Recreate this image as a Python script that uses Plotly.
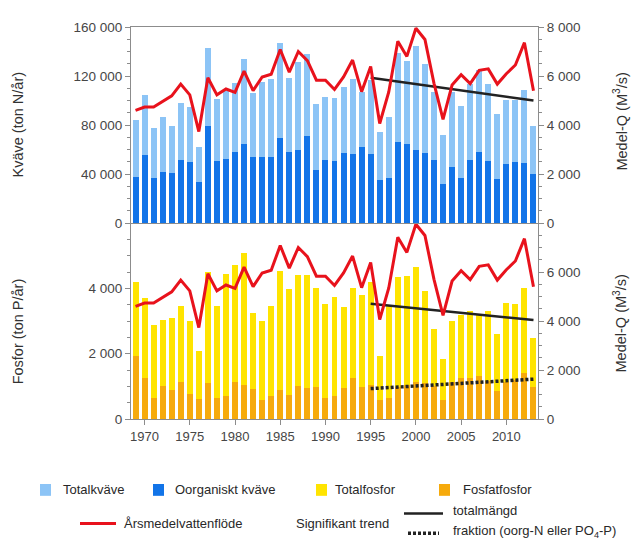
import plotly.graph_objects as go

years = list(range(1969, 2014))

totalkvave = [83700, 104500, 77600, 86900, 78900, 98100, 94900, 62100, 143200, 101600,
              107700, 113900, 133900, 106400, 115200, 117900, 147200, 118700, 131200, 137600,
              97100, 103200, 102100, 111200, 117900, 106700, 117100, 74400, 86400, 139000,
              132000, 144500, 130100, 107000, 72000, 107200, 95500, 113100, 125100, 113300,
              89300, 100500, 100500, 108800, 79200]

oorg_kvave = [37600, 55200, 36500, 41600, 41100, 51700, 49600, 33600, 78900, 50400,
              52300, 58100, 64500, 53600, 54100, 53600, 69100, 57900, 59700, 71200,
              43500, 51700, 50900, 57100, 56300, 62100, 56000, 34900, 36800, 66400,
              64500, 59700, 57100, 51200, 32000, 45900, 37100, 51200, 58100, 50400,
              36000, 48300, 50100, 49100, 40000]

totalfosfor = [4190, 3700, 2870, 3040, 3080, 3450, 2990, 2080, 4490, 3460,
               4440, 4700, 5090, 3250, 3010, 3470, 4520, 3990, 4420, 4420,
               4010, 3520, 3750, 3440, 4000, 3790, 4190, 1920, 3450, 4350,
               4370, 4640, 3920, 2770, 1840, 3000, 3190, 3320, 3200, 3320,
               2600, 3560, 3520, 4000, 2470]

fosfatfosfor = [1940, 1250, 650, 1020, 900, 1140, 770, 620, 1100, 650,
                710, 1120, 1040, 920, 590, 710, 890, 750, 1000, 940,
                970, 640, 690, 940, 1250, 980, 1050, 580, 630, 980,
                1030, 1120, 1100, 1020, 590, 1120, 1240, 1270, 1320, 1170,
                850, 1120, 1190, 1400, 970]

vattenflode = [4600, 4730, 4730, 4960, 5190, 5670, 5230, 3730, 5930, 5230,
               5470, 5330, 6200, 5400, 5960, 6070, 7080, 6160, 7000, 6630,
               5830, 5830, 5450, 5960, 6650, 5360, 6390, 4060, 5350, 7420,
               6800, 7950, 7490, 5700, 4230, 5630, 6050, 5690, 6230, 6290,
               5670, 6090, 6450, 7360, 5400]

trend_years = [1995, 2013]
trend_kvave_total = [118500, 100000]
trend_fosfor_total = [3530, 3030]
trend_fosfor_fraktion = [930, 1220]

year_ticks = [1970, 1975, 1980, 1985, 1990, 1995, 2000, 2005, 2010]

C_TOTN = "rgb(140,196,246)"
C_ORGN = "rgb(18,116,232)"
C_TOTP = "rgb(255,228,0)"
C_PO4 = "rgb(246,170,12)"
C_RED = "rgb(232,18,28)"
C_TREND = "rgb(34,34,34)"
AX = "rgb(140,140,140)"
TXT = "rgb(70,70,70)"
FONT = "Liberation Sans, Arial, sans-serif"

# the page body has an 8px margin; compensate so the figure fills the 641x543 window
OFF = 8
W, H = 641 - OFF, 543 - OFF
PL, PR, PT, PB = 131 - OFF, 538 - OFF, 21 - OFF, 419 - OFF

fig = go.Figure()
BW = 0.66

# top panel
fig.add_trace(go.Bar(x=years, y=totalkvave, marker=dict(color=C_TOTN, line=dict(width=0)),
                     width=BW, xaxis="x2", yaxis="y3", showlegend=False))
fig.add_trace(go.Bar(x=years, y=oorg_kvave, marker=dict(color=C_ORGN, line=dict(width=0)),
                     width=BW, xaxis="x2", yaxis="y3", showlegend=False))
fig.add_trace(go.Scatter(x=years, y=vattenflode, mode="lines", line=dict(color=C_RED, width=3),
                         xaxis="x2", yaxis="y4", showlegend=False))
fig.add_trace(go.Scatter(x=trend_years, y=trend_kvave_total, mode="lines",
                         line=dict(color=C_TREND, width=2.5), xaxis="x2", yaxis="y3", showlegend=False))

# bottom panel
fig.add_trace(go.Bar(x=years, y=totalfosfor, marker=dict(color=C_TOTP, line=dict(width=0)),
                     width=BW, xaxis="x", yaxis="y", showlegend=False))
fig.add_trace(go.Bar(x=years, y=fosfatfosfor, marker=dict(color=C_PO4, line=dict(width=0)),
                     width=BW, xaxis="x", yaxis="y", showlegend=False))
fig.add_trace(go.Scatter(x=years, y=vattenflode, mode="lines", line=dict(color=C_RED, width=3),
                         xaxis="x", yaxis="y2", showlegend=False))
fig.add_trace(go.Scatter(x=trend_years, y=trend_fosfor_total, mode="lines",
                         line=dict(color=C_TREND, width=2.5), xaxis="x", yaxis="y", showlegend=False))
fig.add_trace(go.Scatter(x=trend_years, y=trend_fosfor_fraktion, mode="lines",
                         line=dict(color=C_TREND, width=3.5, dash="3px,2px"), xaxis="x", yaxis="y",
                         showlegend=False))

tickfont = dict(family=FONT, size=13.5, color=TXT)
common_y = dict(showgrid=False, zeroline=False, showline=True, linecolor=AX, linewidth=1,
                ticks="outside", ticklen=5, tickcolor=AX, tickfont=tickfont, fixedrange=True,
                tickformat=",d")

fig.update_layout(
    width=W, height=H,
    margin=dict(l=PL, r=W - PR, t=PT, b=H - PB),
    paper_bgcolor="white", plot_bgcolor="white",
    barmode="overlay", bargap=0,
    separators=", ",
    font=dict(family=FONT, color=TXT),
    xaxis=dict(domain=[0, 1], anchor="y", range=[1968.5, 2013.5], tickvals=year_ticks,
               ticks="outside", ticklen=5, tickcolor=AX, showline=True, linecolor=AX,
               showgrid=False, zeroline=False, tickformat="d",
               tickfont=dict(family=FONT, size=13, color=TXT)),
    xaxis2=dict(domain=[0, 1], anchor="y3", range=[1968.5, 2013.5], showticklabels=False,
                ticks="", showline=True, linecolor=AX, mirror=True, showgrid=False, zeroline=False),
    yaxis=dict(domain=[0, 0.5], anchor="x", range=[0, 6000], tickvals=[0, 2000, 4000],
               minor=dict(dtick=500, tick0=0, ticks="outside", ticklen=3, tickcolor=AX), **common_y),
    yaxis2=dict(domain=[0, 0.5], anchor="x", overlaying="y", side="right", range=[0, 8000],
                tickvals=[0, 2000, 4000, 6000],
                minor=dict(dtick=500, tick0=0, ticks="outside", ticklen=3, tickcolor=AX), **common_y),
    yaxis3=dict(domain=[0.5, 1], anchor="x2", range=[0, 160000], dtick=40000, tick0=0,
                minor=dict(dtick=10000, tick0=0, ticks="outside", ticklen=3, tickcolor=AX), **common_y),
    yaxis4=dict(domain=[0.5, 1], anchor="x2", overlaying="y3", side="right", range=[0, 8000],
                dtick=2000, tick0=0,
                minor=dict(dtick=500, tick0=0, ticks="outside", ticklen=3, tickcolor=AX), **common_y),
)

# window pixel -> paper helpers
def px(x):
    return (x - OFF - PL) / (PR - PL)
def py(y):
    return (PB - (y - OFF)) / (PB - PT)

title_font = dict(family=FONT, size=14.5, color="rgb(50,50,50)")
ann = [
    dict(text="Kväve (ton N/år)", x=px(18), y=py(120), textangle=-90),
    dict(text="Fosfor (ton P/år)", x=px(18), y=py(330), textangle=-90),
    dict(text="Medel-Q (M<sup>3</sup>/s)", x=px(620), y=py(117), textangle=-90),
    dict(text="Medel-Q (M<sup>3</sup>/s)", x=px(620), y=py(322), textangle=-90),
]
for a in ann:
    fig.add_annotation(xref="paper", yref="paper", showarrow=False, xanchor="center",
                       yanchor="middle", font=title_font, **a)

# legend
leg_font = dict(family=FONT, size=13, color="rgb(40,40,40)")
legend_boxes = [("Totalkväve", C_TOTN, 40, 61), ("Oorganiskt kväve", C_ORGN, 153, 173),
                ("Totalfosfor", C_TOTP, 316, 333), ("Fosfatfosfor", C_PO4, 439, 461)]
ROW1 = 491
for label, col, sx, tx in legend_boxes:
    fig.add_shape(type="rect", xref="paper", yref="paper", x0=px(sx), x1=px(sx + 11),
                  y0=py(ROW1 + 6), y1=py(ROW1 - 6), fillcolor=col, line=dict(width=0))
    fig.add_annotation(xref="paper", yref="paper", x=px(tx), y=py(ROW1), text=label,
                       showarrow=False, xanchor="left", yanchor="middle", font=leg_font)

ROW2 = 525
fig.add_shape(type="line", xref="paper", yref="paper", x0=px(80), x1=px(116), y0=py(ROW2), y1=py(ROW2),
              line=dict(color=C_RED, width=3))
fig.add_annotation(xref="paper", yref="paper", x=px(122), y=py(ROW2), text="Årsmedelvattenflöde",
                   showarrow=False, xanchor="left", yanchor="middle", font=leg_font)
fig.add_annotation(xref="paper", yref="paper", x=px(294), y=py(ROW2), text="Signifikant trend",
                   showarrow=False, xanchor="left", yanchor="middle", font=leg_font)
fig.add_shape(type="line", xref="paper", yref="paper", x0=px(404), x1=px(443), y0=py(515), y1=py(515),
              line=dict(color=C_TREND, width=2.5))
fig.add_annotation(xref="paper", yref="paper", x=px(451), y=py(512), text="totalmängd",
                   showarrow=False, xanchor="left", yanchor="middle", font=leg_font)
fig.add_shape(type="line", xref="paper", yref="paper", x0=px(408), x1=px(439), y0=py(535), y1=py(535),
              line=dict(color=C_TREND, width=3.5, dash="3px,2px"))
fig.add_annotation(xref="paper", yref="paper", x=px(451), y=py(533),
                   text="fraktion (oorg-N eller PO<sub>4</sub>-P)",
                   showarrow=False, xanchor="left", yanchor="middle", font=leg_font)

fig.write_html("out.html")
